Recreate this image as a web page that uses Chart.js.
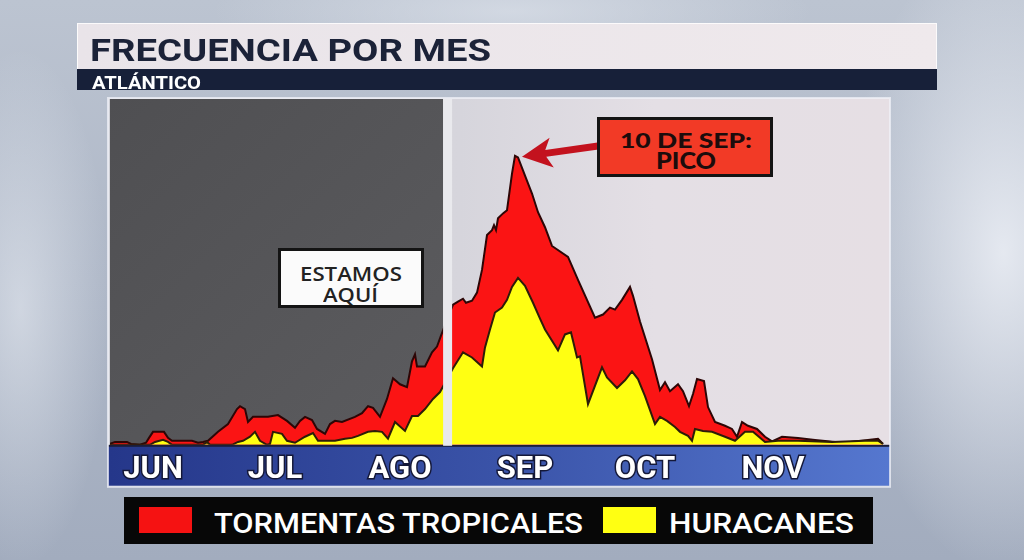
<!DOCTYPE html>
<html>
<head>
<meta charset="utf-8">
<script src="https://cdn.jsdelivr.net/npm/chart.js@4.4.1/dist/chart.umd.min.js"></script>
<style>
html,body{margin:0;padding:0;width:1024px;height:560px;overflow:hidden;}
body{position:relative;
background:
 radial-gradient(ellipse 90px 260px at 2% 55%, rgba(236,240,246,0.55), rgba(236,240,246,0)),
 radial-gradient(ellipse 160px 320px at 98% 45%, rgba(238,241,247,0.85), rgba(238,241,247,0)),
 radial-gradient(ellipse 300px 60px at 50% 2%, rgba(225,230,238,0.6), rgba(225,230,238,0)),
 linear-gradient(180deg,#bcc4d1 0%,#aeb7c7 50%,#a2acbe 100%);}
#c{position:absolute;left:0;top:0;}
.t{position:absolute;white-space:nowrap;display:inline-block;transform-origin:0 0;line-height:1;}
#titleBox{position:absolute;left:77px;top:23px;width:858px;height:46px;background:linear-gradient(90deg,#e9e4e9,#efe9ec);border:1px solid rgba(255,255,255,0.8);border-bottom:none;}
#subBar{position:absolute;left:77px;top:69px;width:860px;height:21px;background:#172039;}
#legend{position:absolute;left:124px;top:497px;width:749px;height:47px;background:#070707;}
.sw{position:absolute;top:507px;height:26px;width:53px;}
#peakBox{position:absolute;left:597px;top:117px;width:170px;height:54px;background:#f23a26;border:3px solid #141414;}
#nowBox{position:absolute;left:278px;top:248px;width:140px;height:54px;background:#fbfbfb;border:3px solid #141414;}
</style>
</head>
<body>
<div id="titleBox"></div>
<div id="subBar"></div>
<canvas id="c" width="1024" height="560"></canvas>
<span class="t" data-w="401" style="left:90px;top:31px;font:700 32px Roboto;color:#1b2238;">FRECUENCIA POR MES</span>
<span class="t" data-w="109" style="left:92px;top:72px;font:700 18px Roboto;color:#ffffff;">ATLÁNTICO</span>

<div id="peakBox"></div>
<span class="t" data-w="132" style="left:620px;top:126.5px;font:900 21px Lato;color:#1c0c0c;">10 DE SEP:</span>
<span class="t" data-w="60" style="left:656px;top:146.5px;font:900 22px Lato;color:#1c0c0c;">PICO</span>

<div id="nowBox"></div>
<span class="t" data-w="102" style="left:300px;top:258.5px;font:600 20.3px 'Open Sans';color:#222;">ESTAMOS</span>
<span class="t" data-w="55" style="left:323px;top:279.5px;font:600 20.3px 'Open Sans';color:#222;">AQUÍ</span>

<div id="legend"></div>
<div class="sw" style="left:139px;background:#f51212;"></div>
<div class="sw" style="left:603px;background:#ffff12;"></div>
<span class="t" data-w="369" style="left:214px;top:508.4px;font:500 27px Roboto;color:#ffffff;">TORMENTAS TROPICALES</span>
<span class="t" data-w="185" style="left:669px;top:508.4px;font:500 27px Roboto;color:#ffffff;">HURACANES</span>

<script>
// ---- data (x = days since 1 June, y = relative frequency) ----
const monthLabels = ['JUN','JUL','AGO','SEP','OCT','NOV'];
const monthLabelDays = [10.75, 41.25, 72.5, 103.75, 133.75, 165.75];
const todayDay = 84.4;

const stormDays = [
  0,1.25,4.25,5.25,7.5,9,9.75,10.75,13.5,14.5,
  15.5,20.5,22,23.25,24.5,27,29.5,31.75,32.5,33.75,
  34.5,35.75,39.5,42,44.25,46.25,47.5,48.75,50.5,51.75,
  53.75,55,56.25,58,61.25,63,64.5,65.75,67.5,69.25,
  70.75,72.5,74.25,75.5,76.25,76.75,78.75,80.5,81.75,82.75,
  85.75,87,88.25,89,90.5,91.75,93,94.25,95.5,96,
  96.5,97,98.25,99.25,100.5,101.25,102,103.75,105.5,107,
  108.75,110.5,114.5,117,121.25,123.25,125,126.25,128,130,
  130.75,132.5,135.5,137.5,138.75,140,142,143.25,144.75,145.75,
  146.75,148.5,149.5,151.25,153.75,155.5,156.75,158,159.5,161.75,
  163.75,165.5,168,172,176.25,181.25,185,189.5,192,193.25
];
const stormValues = [
  0.3,1.0,1.0,0.3,0,0.7,2.4,4.5,4.5,2.4,
  1.4,1.4,0.7,1.0,1.4,4.5,7.2,12.4,13.4,12.4,
  7.9,9.7,9.7,10.3,8.3,5.9,8.3,9.7,8.6,5.5,
  3.8,7.2,8.3,7.9,9.7,11.0,13.4,12.8,9.7,15.9,
  23.1,21.0,20.0,29.0,31.4,27.2,27.2,32.1,34.1,37.9,
  48.6,49.7,50.7,49.3,50.0,52.8,60.7,72.8,74.5,76.2,
  74.5,78.6,80.3,81.4,94.1,100.3,99.7,93.4,87.2,80.7,
  75.5,69.0,65.2,57.2,44.1,45.2,47.6,46.9,50.3,54.8,
  51.7,42.8,29.7,19.0,21.7,18.6,21.0,18.6,13.4,17.6,
  22.8,22.1,13.1,7.9,6.6,5.5,2.8,7.9,6.6,5.5,
  2.8,1.2,2.8,2.4,1.7,1.0,1.0,1.7,2.1,0.3
];
const hurricaneDays = [
  0,10,11.25,13.25,14.5,15.5,23.25,24.25,25,30.5,
  32,33.25,35,36.25,37.5,39.25,40,40.75,43,44.25,
  46.25,48.75,50.75,52,56.25,58.75,60.5,62,64.5,66.25,
  68,69.5,71.25,73.75,75.5,77,78.75,80.75,82.5,85.75,
  88.25,90.5,93,93.75,95,96.25,98,99.25,100.5,102,
  103.75,105.75,107.5,108.75,112,113.75,115.25,116.75,117.5,119.5,
  123,124.25,126.75,128.75,130.5,132,133.75,136.25,137.5,139.25,
  141.25,142.5,144.5,145.5,146.25,148.25,150.5,153.75,156.25,158.75,
  160.75,163.75,167,172,180.5,188.75,192,193.25
];
const hurricaneValues = [
  0,0,1.0,1.7,1.0,0,0,1.0,0,0,
  1.0,1.4,2.8,4.5,1.4,0,0.3,4.5,3.8,1.4,
  0.7,2.8,4.1,1.4,1.4,2.1,2.4,3.1,4.5,4.8,
  4.5,2.1,7.9,4.8,10.0,10.0,12.4,15.9,18.3,26.6,
  32.1,30.3,27.2,33.8,40.0,45.9,47.6,50.3,54.8,57.9,
  55.2,49.3,43.8,40.0,32.8,38.3,39.0,30.3,30.7,14.1,
  26.9,23.4,19.7,22.4,25.5,22.8,16.9,7.2,9.7,8.3,
  6.2,4.5,3.1,1.4,5.5,4.8,4.5,2.8,1.4,4.5,
  4.5,1.0,1.4,1.4,1.0,1.4,1.4,0.3
];
const seriesNames = ['TORMENTAS TROPICALES','HURACANES'];

const stormData = stormDays.map((d,i)=>({x:d,y:stormValues[i]}));
const hurricaneData = hurricaneDays.map((d,i)=>({x:d,y:hurricaneValues[i]}));
let peakIdx = 0;
stormValues.forEach((v,i)=>{ if(v>stormValues[peakIdx]) peakIdx=i; });

const panelPlugin = {
  id:'panel',
  beforeDraw(chart){
    const {ctx, chartArea:{left,right,top,bottom}, scales:{x}} = chart;
    const tp = x.getPixelForValue(todayDay);
    ctx.save();
    let g = ctx.createLinearGradient(left,0,right,0);
    g.addColorStop(0,'#cfd0d6'); g.addColorStop(0.45,'#d6d5dc'); g.addColorStop(0.7,'#e4dfe5'); g.addColorStop(1,'#e6dfe4');
    ctx.fillStyle = g;
    ctx.fillRect(left-2, top-1, right-left+4, bottom-top+2);
    let g2 = ctx.createLinearGradient(left,top,tp,bottom);
    g2.addColorStop(0,'#4f4f52'); g2.addColorStop(1,'#5c5c5f');
    ctx.fillStyle = g2;
    ctx.fillRect(left, top, tp-4.5-left, bottom-top);
    let g3 = ctx.createLinearGradient(left,0,right,0);
    g3.addColorStop(0,'#25378a'); g3.addColorStop(0.5,'#3a53a8'); g3.addColorStop(1,'#5577cf');
    ctx.fillStyle = g3;
    ctx.fillRect(left-2, bottom+1, right-left+4, 40);
    ctx.fillStyle = '#1a1d3a';
    ctx.fillRect(left-2, bottom, right-left+4, 2);
    ctx.strokeStyle = 'rgba(240,242,248,0.75)';
    ctx.lineWidth = 2;
    ctx.strokeRect(left-2, top-1, right-left+4, bottom-top+43);
    ctx.restore();
  },
  afterDatasetsDraw(chart){
    const {ctx, chartArea:{top,bottom}, scales:{x,y}} = chart;
    const tp = x.getPixelForValue(todayDay);
    ctx.save();
    ctx.fillStyle = '#e9e9ed';
    ctx.fillRect(tp-4.5, top, 9, bottom-top+1);
    const tipX = x.getPixelForValue(stormDays[peakIdx]) + 7;
    const tipY = y.getPixelForValue(stormValues[peakIdx]) + 1;
    const tailX = 598, tailY = 146;
    const ang = Math.atan2(tipY-tailY, tipX-tailX);
    const L = Math.hypot(tipX-tailX, tipY-tailY);
    ctx.translate(tipX, tipY);
    ctx.rotate(ang + Math.PI);
    ctx.fillStyle = '#c3121e';
    ctx.beginPath();
    ctx.moveTo(0,0);
    ctx.lineTo(30,-15);
    ctx.lineTo(24,-3.5);
    ctx.lineTo(L,-3.5);
    ctx.lineTo(L,3.5);
    ctx.lineTo(24,3.5);
    ctx.lineTo(30,15);
    ctx.closePath();
    ctx.fill();
    ctx.restore();
  }
};

new Chart(document.getElementById('c'), {
  type:'line',
  data:{
    datasets:[
      {label:seriesNames[1], data:hurricaneData, order:0, fill:'origin',
       backgroundColor:'#ffff12', borderColor:'#2d1d08', borderWidth:2, pointRadius:0, tension:0},
      {label:seriesNames[0], data:stormData, order:1, fill:'origin',
       backgroundColor:'#fb1414', borderColor:'#2d0606', borderWidth:2, pointRadius:0, tension:0}
    ]
  },
  options:{
    responsive:false,
    animation:false,
    layout:{padding:{left:110,right:136,top:99,bottom:64}},
    plugins:{legend:{display:false},tooltip:{enabled:false}},
    scales:{
      x:{type:'linear',min:0,max:194.5,
         grid:{display:false,drawTicks:false},border:{display:false},
         afterBuildTicks:(ax)=>{ax.ticks = monthLabelDays.map(v=>({value:v}));},
         ticks:{autoSkip:false,maxRotation:0,padding:7,
           font:{family:'Roboto',weight:'bold',size:31},color:'#ffffff',
           textStrokeColor:'#141838',textStrokeWidth:3,
           callback:(v,i)=>monthLabels[i]}},
      y:{display:false,min:0,max:120}
    }
  },
  plugins:[panelPlugin]
});

function fitTexts(){
  document.querySelectorAll('[data-w]').forEach(el=>{
    el.style.transform='none';
    const w = el.getBoundingClientRect().width;
    el.style.transform = 'scaleX('+(parseFloat(el.dataset.w)/w)+')';
  });
}
fitTexts();
if(document.fonts && document.fonts.ready) document.fonts.ready.then(fitTexts);
</script>
</body>
</html>
